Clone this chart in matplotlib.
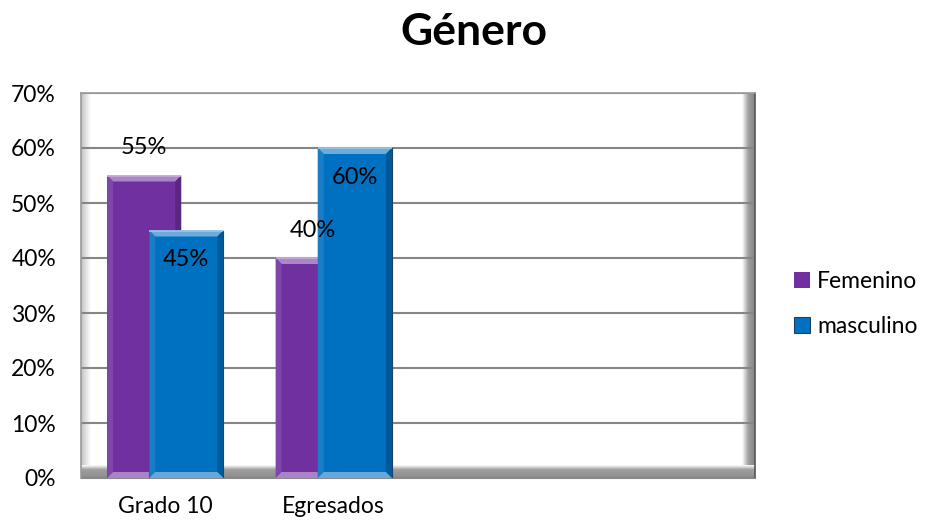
import matplotlib.pyplot as plt
import numpy as np
from matplotlib.patches import Polygon
from matplotlib.colors import to_rgb

plt.rcParams['font.family'] = ['Lato', 'DejaVu Sans']

# Datos del gráfico
categorias = ['Grado 10', 'Egresados', '', '']
femenino = [0.55, 0.40]
masculino = [0.45, 0.60]
series = ['Femenino', 'masculino']

W, H, DPI = 929, 525, 100
AX_L, AX_R, AX_T, AX_B = 81, 755, 93, 478


def shade(color, f):
    c = np.array(to_rgb(color))
    if f >= 0:
        return tuple(c + (1 - c) * f)
    return tuple(c * (1 + f))


def bevel_bar(ax, patch, base, sx, sy, b=6):
    # bisel tipo Excel sobre cada barra
    x0, w, h = patch.get_x(), patch.get_width(), patch.get_height()
    bx, by = b * sx, b * sy
    x1 = x0 + w
    caras = [
        ([(x0, h), (x1, h), (x1 - bx, h - by), (x0 + bx, h - by)], shade(base, 0.42)),
        ([(x0, 0), (x0, h), (x0 + bx, h - by), (x0 + bx, by)], shade(base, 0.10)),
        ([(x1, 0), (x1, h), (x1 - bx, h - by), (x1 - bx, by)], shade(base, -0.20)),
        ([(x0, 0), (x1, 0), (x1 - bx, by), (x0 + bx, by)], shade(base, 0.40)),
    ]
    z = patch.get_zorder()
    for pts, col in caras:
        ax.add_patch(Polygon(pts, closed=True, facecolor=col, edgecolor='none', zorder=z + 0.1))
    ax.plot([x0, x1], [h, h], color=shade(base, 0.6), lw=1.2, zorder=z + 0.2, solid_capstyle='butt')


fig = plt.figure(figsize=(W / DPI, H / DPI), dpi=DPI)
ax = fig.add_axes([AX_L / W, 1 - AX_B / H, (AX_R - AX_L) / W, (AX_B - AX_T) / H])

x = np.arange(len(categorias))
sx = len(categorias) / (AX_R - AX_L)
sy = 0.7 / (AX_B - AX_T)

# marco biselado del área de trazado
g = np.linspace(0, 1, 64)
izq = np.outer(np.ones(2), np.interp(g, [0, 0.15, 1], [0.72, 0.80, 1.0]))
ax.imshow(izq, cmap='gray', vmin=0, vmax=1, extent=(0, 10 / 674, 0, 1),
          transform=ax.transAxes, aspect='auto', zorder=0, interpolation='bilinear')
der = np.outer(np.ones(2), np.interp(g, [0, 0.5, 1], [1.0, 0.62, 0.52]))
ax.imshow(der, cmap='gray', vmin=0, vmax=1, extent=(1 - 13 / 674, 1, 0, 1),
          transform=ax.transAxes, aspect='auto', zorder=0, interpolation='bilinear')
inf = np.outer(np.interp(g, [0, 0.35, 1], [1.0, 0.62, 0.55]), np.ones(2))
ax.imshow(inf, cmap='gray', vmin=0, vmax=1, extent=(0, 1, 0, 13 / 385),
          transform=ax.transAxes, aspect='auto', zorder=0, interpolation='bilinear')
ax.set_xlim(-0.5, len(categorias) - 0.5)
ax.set_ylim(0, 0.7)

ax.yaxis.grid(True, color='#868686', lw=1.5, zorder=1)
ax.set_axisbelow(True)

ancho = 0.44
desp = 0.125
morado, azul = '#7030A0', '#0070C0'
b1 = ax.bar(x[:2] - desp, femenino, ancho, color=morado, zorder=3, label=series[0])
b2 = ax.bar(x[:2] + desp, masculino, ancho, color=azul, zorder=4, label=series[1],
            edgecolor='#1F3F66', linewidth=0.8)
for p in b1:
    bevel_bar(ax, p, morado, sx, sy)
for p in b2:
    bevel_bar(ax, p, azul, sx, sy)

for p, v in zip(b1, femenino):
    ax.annotate(f'{v:.0%}', (p.get_x() + p.get_width() / 2, v), xytext=(0, 20),
                textcoords='offset points', ha='center', va='center', fontsize=17, zorder=6)
for p, v in zip(b2, masculino):
    ax.annotate(f'{v:.0%}', (p.get_x() + p.get_width() / 2, v), xytext=(0, -21),
                textcoords='offset points', ha='center', va='center', fontsize=17, zorder=6)

ax.set_yticks(np.arange(0, 0.71, 0.1))
ax.set_yticklabels([f'{t:.0%}' for t in np.arange(0, 0.71, 0.1)])
ax.set_xticks(x)
ax.set_xticklabels(categorias)
ax.tick_params(axis='both', length=0, labelsize=16.5, colors='black')
ax.tick_params(axis='y', pad=18)
ax.tick_params(axis='x', pad=13)

for lado in ['top', 'left']:
    ax.spines[lado].set_color('#9a9a9a')
    ax.spines[lado].set_linewidth(1.2)
ax.spines['right'].set_color('#555555')
ax.spines['bottom'].set_color('#8a8a8a')
ax.spines['right'].set_linewidth(1.2)

fig.text(474 / W, 1 - 45 / H, 'Género', ha='center', va='baseline', fontsize=32, fontweight='bold')

leg = fig.legend(handles=[b1, b2], labels=series, loc='center left',
                 bbox_to_anchor=(778 / W, 1 - 304 / H), frameon=False, fontsize=16.5,
                 handlelength=0.7, handleheight=0.7, handletextpad=0.3, labelspacing=1.05,
                 borderpad=0.2)

fig.savefig('out.png', dpi=DPI)
